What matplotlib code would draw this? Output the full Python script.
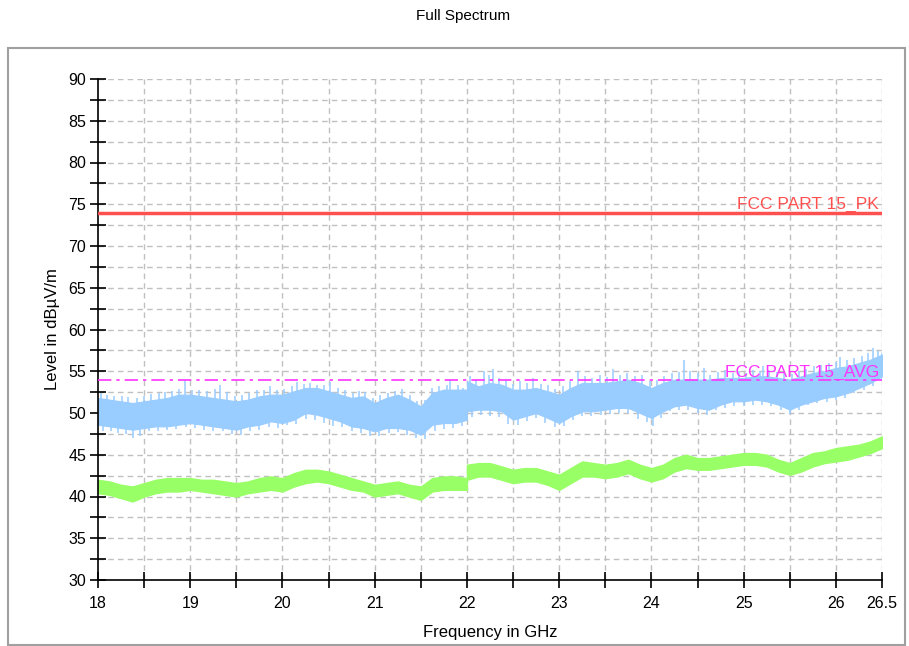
import matplotlib
matplotlib.use("Agg")
import matplotlib.pyplot as plt
import numpy as np

# ---- data ----
# sweep 1: 18 - 22 GHz, sweep 2: 22 - 26.5 GHz (level jump at 22 GHz)
freq_a = [18.0, 18.125, 18.25, 18.375, 18.5, 18.625, 18.75, 18.875, 19.0, 19.125, 19.25,
          19.375, 19.5, 19.625, 19.75, 19.875, 20.0, 20.125, 20.25, 20.375, 20.5, 20.625,
          20.75, 20.875, 21.0, 21.125, 21.25, 21.375, 21.5, 21.625, 21.75, 21.875, 22.0]
freq_b = [22.0, 22.125, 22.25, 22.375, 22.5, 22.625, 22.75, 22.875, 23.0, 23.125, 23.25,
          23.375, 23.5, 23.625, 23.75, 23.875, 24.0, 24.125, 24.25, 24.375, 24.5, 24.625,
          24.75, 24.875, 25.0, 25.125, 25.25, 25.375, 25.5, 25.625, 25.75, 25.875, 26.0,
          26.125, 26.25, 26.375, 26.5]

# peak detector trace (dense core of the noise band)
pk_upper_a = [51.8, 51.6, 51.4, 51.2, 51.4, 51.6, 51.8, 52.2, 52.2, 52.0, 51.8, 51.6, 51.4,
              51.6, 52.0, 52.2, 52.2, 52.6, 53.0, 53.0, 52.6, 52.2, 51.8, 52.0, 51.2, 51.8,
              52.2, 51.6, 50.8, 52.4, 52.8, 52.8, 52.8]
pk_lower_a = [48.6, 48.4, 48.2, 48.0, 48.2, 48.4, 48.4, 48.6, 48.8, 48.6, 48.4, 48.2, 48.0,
              48.4, 48.6, 49.0, 48.8, 49.2, 50.0, 49.8, 49.4, 49.0, 48.4, 48.2, 47.8, 48.2,
              48.2, 48.0, 47.4, 48.6, 48.8, 48.8, 49.2]
pk_upper_b = [53.8, 53.2, 53.6, 53.4, 52.8, 52.8, 53.0, 52.6, 52.2, 53.0, 53.6, 53.6, 53.6,
              53.8, 54.0, 53.6, 53.0, 53.6, 54.0, 54.0, 54.0, 54.0, 54.2, 54.2, 54.2, 54.4,
              54.4, 54.2, 54.0, 54.4, 54.8, 55.0, 55.4, 55.6, 56.0, 56.4, 57.0]
pk_lower_b = [50.2, 50.4, 50.4, 50.2, 49.2, 49.6, 50.0, 49.4, 48.8, 49.6, 50.2, 50.2, 50.4,
              50.6, 50.6, 50.0, 49.4, 50.2, 50.8, 51.0, 50.6, 50.4, 51.0, 51.4, 51.4, 51.6,
              51.4, 51.0, 50.4, 51.0, 51.4, 51.8, 52.0, 52.4, 53.0, 53.6, 54.4]

# average detector trace
av_upper_a = [42.0, 41.8, 41.4, 41.2, 41.6, 42.0, 42.2, 42.2, 42.2, 42.0, 42.0, 41.8, 41.6,
              41.8, 42.2, 42.4, 42.2, 42.8, 43.2, 43.2, 43.0, 42.6, 42.2, 41.8, 41.4, 41.6,
              41.8, 41.4, 41.2, 42.2, 42.4, 42.4, 42.2]
av_lower_a = [40.4, 40.2, 39.8, 39.4, 40.0, 40.4, 40.6, 40.6, 40.8, 40.6, 40.4, 40.2, 40.0,
              40.4, 40.6, 40.8, 40.6, 41.2, 41.6, 41.8, 41.6, 41.2, 40.8, 40.6, 40.0, 40.2,
              40.4, 40.0, 39.6, 40.6, 40.8, 40.8, 40.8]
av_upper_b = [43.8, 44.0, 44.0, 43.6, 43.2, 43.4, 43.4, 43.0, 42.6, 43.4, 44.2, 44.0, 43.8,
              44.0, 44.4, 43.8, 43.4, 43.8, 44.6, 45.0, 44.6, 44.6, 44.8, 45.0, 45.2, 45.2,
              45.0, 44.4, 44.0, 44.6, 45.2, 45.4, 45.8, 46.0, 46.2, 46.6, 47.2]
av_lower_b = [42.0, 42.4, 42.4, 42.0, 41.6, 41.8, 41.8, 41.4, 40.8, 41.6, 42.4, 42.4, 42.2,
              42.4, 42.8, 42.2, 41.8, 42.2, 43.0, 43.4, 43.2, 43.2, 43.4, 43.6, 43.8, 43.8,
              43.6, 43.0, 42.6, 43.0, 43.6, 44.0, 44.2, 44.4, 44.8, 45.2, 45.8]

# single noise spikes above / below the peak trace core
pk_hair_up_f = [18.03, 18.1, 18.17, 18.26, 18.33, 18.42, 18.5, 18.58, 18.66, 18.73, 18.8,
                18.88, 18.94, 19.02, 19.1, 19.18, 19.27, 19.32, 19.4, 19.48, 19.56, 19.64,
                19.72, 19.8, 19.86, 19.94, 20.02, 20.1, 20.16, 20.23, 20.3, 20.37, 20.45,
                20.52, 20.6, 20.68, 20.76, 20.83, 20.9, 20.98, 21.06, 21.14, 21.22, 21.3,
                21.38, 21.46, 21.55, 21.62, 21.7, 21.78, 21.82, 21.9, 21.96,
                22.03, 22.1, 22.18, 22.24, 22.28, 22.35, 22.42, 22.5, 22.58, 22.65, 22.72,
                22.8, 22.88, 22.96, 23.04, 23.12, 23.2, 23.28, 23.36, 23.44, 23.52, 23.58,
                23.66, 23.74, 23.82, 23.9, 23.98, 24.06, 24.14, 24.22, 24.3, 24.35, 24.42,
                24.5, 24.57, 24.64, 24.72, 24.8, 24.88, 24.95, 25.03, 25.1, 25.18, 25.21,
                25.28, 25.36, 25.44, 25.52, 25.6, 25.68, 25.76, 25.84, 25.92, 26.0, 26.05,
                26.12, 26.2, 26.28, 26.35, 26.4, 26.46, 26.5]
pk_hair_up_v = [52.4, 52.2, 52.0, 52.0, 51.9, 51.8, 52.0, 52.3, 52.4, 52.5, 52.6,
                52.9, 54.0, 52.8, 52.7, 52.6, 52.9, 53.4, 52.5, 52.0, 52.2, 52.4,
                52.7, 52.8, 53.2, 52.8, 52.9, 53.2, 53.7, 53.5, 53.6, 53.3, 53.4,
                53.7, 53.0, 52.7, 52.4, 52.6, 52.5, 51.8, 52.2, 52.4, 52.6, 52.9,
                52.1, 51.4, 51.6, 53.0, 53.2, 53.4, 54.0, 53.3, 53.0,
                54.4, 54.0, 55.0, 54.6, 55.3, 54.2, 54.0, 53.5, 53.8, 53.6, 54.2,
                53.5, 53.3, 52.9, 53.2, 53.8, 55.0, 54.4, 54.2, 54.6, 54.3, 55.3,
                54.6, 54.8, 54.4, 54.6, 53.8, 54.0, 54.4, 54.8, 54.9, 56.4, 55.0,
                54.8, 55.4, 54.6, 54.9, 55.2, 54.8, 55.0, 54.8, 55.2, 55.0, 55.6,
                55.2, 54.9, 55.0, 54.7, 55.0, 55.3, 55.6, 55.8, 56.0, 56.1, 56.7,
                56.4, 56.6, 56.8, 57.2, 57.8, 57.4, 57.2]
pk_hair_dn_f = [18.05, 18.14, 18.22, 18.3, 18.38, 18.45, 18.55, 18.65, 18.75, 18.85, 18.95,
                19.05, 19.15, 19.25, 19.35, 19.45, 19.55, 19.65, 19.75, 19.85, 19.95, 20.05,
                20.15, 20.25, 20.35, 20.45, 20.55, 20.65, 20.75, 20.85, 20.95, 21.05, 21.15,
                21.25, 21.35, 21.45, 21.55, 21.65, 21.75, 21.85, 21.95,
                22.05, 22.15, 22.25, 22.35, 22.45, 22.55, 22.65, 22.75, 22.85, 22.95, 23.05,
                23.15, 23.25, 23.35, 23.45, 23.55, 23.65, 23.75, 23.85, 23.95, 24.02, 24.1,
                24.2, 24.3, 24.4, 24.5, 24.6, 24.7, 24.8, 24.9, 25.0, 25.1, 25.2, 25.3,
                25.4, 25.5, 25.6, 25.7, 25.8, 25.9, 26.0, 26.1, 26.2, 26.3, 26.4, 26.5]
pk_hair_dn_v = [47.8, 47.9, 47.6, 47.5, 47.0, 47.3, 47.8, 47.9, 48.0, 48.1, 48.3,
                48.2, 48.0, 47.9, 47.8, 47.5, 47.4, 47.8, 48.0, 48.3, 48.2, 48.6,
                48.7, 49.3, 49.2, 48.8, 48.5, 48.3, 47.8, 47.6, 47.3, 47.3, 47.6,
                47.7, 47.4, 47.0, 46.9, 47.8, 48.1, 48.2, 48.5,
                49.5, 49.8, 49.6, 49.5, 48.7, 48.6, 49.0, 49.4, 48.8, 48.3, 48.4,
                49.2, 49.6, 49.6, 49.8, 49.9, 50.0, 50.0, 49.3, 48.9, 48.4, 49.4,
                50.2, 50.4, 50.4, 50.0, 49.8, 50.4, 50.6, 50.8, 50.8, 51.0, 51.0, 50.8,
                50.4, 49.9, 50.4, 50.9, 51.2, 51.3, 51.5, 51.8, 52.4, 52.8, 53.2, 53.8]

limit_pk = 74.0
limit_av = 54.0
x_major = [18, 19, 20, 21, 22, 23, 24, 25, 26, 26.5]
x_labels = ["18", "19", "20", "21", "22", "23", "24", "25", "26", "26.5"]
y_major = [30, 35, 40, 45, 50, 55, 60, 65, 70, 75, 80, 85, 90]

BLUE = "#99CCFF"
GREEN = "#99FF66"
RED = "#FF5050"
MAG = "#FF33FF"
FONT = "Liberation Sans"

fig = plt.figure(figsize=(9.09, 6.46), dpi=100)
fig.patches.append(plt.Rectangle((8 / 909, 1 - 645 / 646), 897 / 909, 597 / 646,
                                 transform=fig.transFigure, fill=False,
                                 edgecolor="#a0a0a0", linewidth=1.5))
ax = fig.add_axes([98 / 909, 1 - 580 / 646, 784 / 909, 501 / 646])
ax.set_xlim(18, 26.5)
ax.set_ylim(30, 90)

# grid
for gx in [18.5 + 0.5 * i for i in range(17)]:
    ax.axvline(gx, color="#c0c0c0", lw=1, ls=(0, (4, 3)), zorder=0)
for gy in [32.5 + 2.5 * i for i in range(24)]:
    ax.axhline(gy, color="#c0c0c0", lw=1, ls=(0, (4, 3)), zorder=0)


def core_mid(f, lo_a, hi_a, lo_b, hi_b):
    if f < 22:
        return np.interp(f, freq_a, [(a + b) / 2 for a, b in zip(lo_a, hi_a)])
    return np.interp(f, freq_b, [(a + b) / 2 for a, b in zip(lo_b, hi_b)])


# peak trace
for fr, lo, hi in [(freq_a, pk_lower_a, pk_upper_a), (freq_b, pk_lower_b, pk_upper_b)]:
    ax.fill_between(fr, lo, hi, color=BLUE, lw=0.8, edgecolor=BLUE, zorder=2)
up_base = [core_mid(f, pk_lower_a, pk_upper_a, pk_lower_b, pk_upper_b) for f in pk_hair_up_f]
dn_base = [core_mid(f, pk_lower_a, pk_upper_a, pk_lower_b, pk_upper_b) for f in pk_hair_dn_f]
ax.vlines(pk_hair_up_f, up_base, pk_hair_up_v, color=BLUE, lw=1.1, zorder=2)
ax.vlines(pk_hair_dn_f, pk_hair_dn_v, dn_base, color=BLUE, lw=1.1, zorder=2)

# average trace
for fr, lo, hi in [(freq_a, av_lower_a, av_upper_a), (freq_b, av_lower_b, av_upper_b)]:
    ax.fill_between(fr, lo, hi, color=GREEN, lw=1.0, edgecolor=GREEN, zorder=2)

# limit lines
ax.axhline(limit_pk, color=RED, lw=2.5, zorder=3)
ax.axhline(limit_av, color=MAG, lw=1.2, ls=(0, (8, 3, 2, 3)), zorder=3)
ax.text(26.47, limit_pk + 0.1, "FCC PART 15_PK", color=RED, ha="right", va="bottom",
        fontsize=12.5, family=FONT, zorder=4)
ax.text(26.47, limit_av + 0.0, "FCC PART 15_AVG", color=MAG, ha="right", va="bottom",
        fontsize=12.5, family=FONT, zorder=4)

# axes styling
for s in ["top", "right"]:
    ax.spines[s].set_visible(False)
for s in ["left", "bottom"]:
    ax.spines[s].set_color("black")
    ax.spines[s].set_linewidth(1.2)
ax.set_xticks(x_major)
ax.set_xticklabels(x_labels)
ax.set_xticks([18.5 + i for i in range(8)], minor=True)
ax.set_yticks(y_major)
ax.set_yticks([32.5 + 5 * i for i in range(12)], minor=True)
ax.tick_params(which="both", direction="inout", length=11, width=1.2, color="black",
               labelsize=11.5)
ax.tick_params(axis="x", pad=6)
ax.tick_params(axis="y", pad=3)
for lab in ax.get_xticklabels() + ax.get_yticklabels():
    lab.set_family(FONT)

ax.set_xlabel("Frequency in GHz", fontsize=12, family=FONT, labelpad=10)
ax.set_ylabel("Level in dBµV/m", fontsize=12, family=FONT, labelpad=6)
fig.text(463 / 909, 1 - 16 / 646, "Full Spectrum", ha="center", va="center",
         fontsize=11, family=FONT)

fig.savefig("out.png", dpi=100)
